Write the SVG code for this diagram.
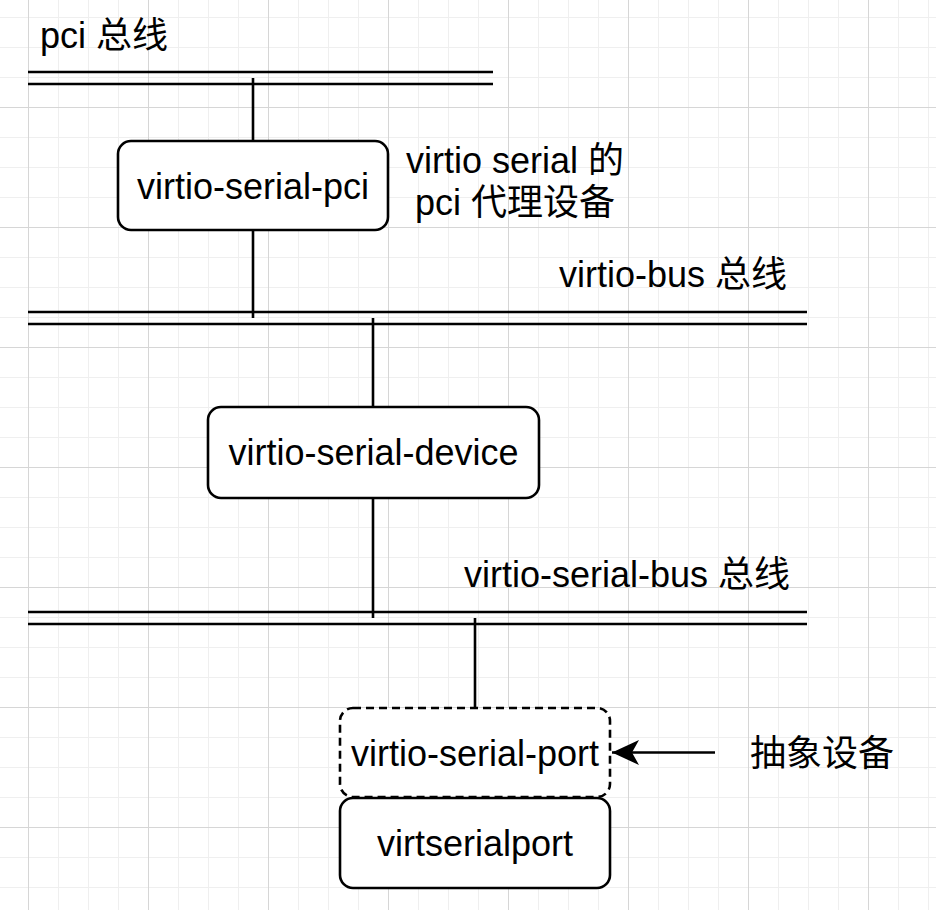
<svg xmlns="http://www.w3.org/2000/svg" width="936" height="910" viewBox="0 0 936 910">
<defs>
<pattern id="gMinor" width="30" height="30" patternUnits="userSpaceOnUse" x="28" y="17">
<path d="M0,0 H30 M0,0 V30" fill="none" stroke="#efefef" stroke-width="2"/>
</pattern>
<pattern id="gMajor" width="120" height="120" patternUnits="userSpaceOnUse" x="28" y="107">
<path d="M0,0 H120 M0,0 V120" fill="none" stroke="#d6d6d6" stroke-width="2"/>
</pattern>
<marker id="arrow" markerUnits="userSpaceOnUse" markerWidth="28" markerHeight="28" refX="27" refY="13" orient="auto">
<path d="M0,0.5 L27,13 L0,25.5 L7,13 Z" fill="#000"/>
</marker>
<style>
.node{fill:#fff;stroke:#000;stroke-width:2.6}
.dash{stroke-dasharray:8 5}
.bus{stroke:#000;stroke-width:2.6;fill:none}
.wire{stroke:#000;stroke-width:2.6;fill:none}
.t{font-family:"Liberation Sans","Noto Sans CJK SC",sans-serif;font-size:36px;fill:#000}
.c{text-anchor:middle}
</style>
</defs>
<rect width="936" height="910" fill="#fff"/>
<rect width="936" height="910" fill="url(#gMinor)"/>
<rect width="936" height="910" fill="url(#gMajor)"/>

<g id="connectors">
<path class="bus" d="M28,72 H493 M28,84 H493"/>
<path class="bus" d="M28,312 H807 M28,324 H807"/>
<path class="bus" d="M28,612 H807 M28,624 H807"/>
<path class="wire" d="M253,78 V141"/>
<path class="wire" d="M253,230 V318"/>
<path class="wire" d="M373,318 V407"/>
<path class="wire" d="M373,498 V618"/>
<path class="wire" d="M475,618 V708"/>
<path class="wire" d="M715,752.5 H612" marker-end="url(#arrow)"/>
</g>

<g id="label-pci-bus"><text class="t" x="40" y="48">pci 总线</text></g>
<g id="label-virtio-bus"><text class="t c" x="673" y="287">virtio-bus 总线</text></g>
<g id="label-virtio-serial-bus"><text class="t c" x="627" y="587">virtio-serial-bus 总线</text></g>
<g id="label-proxy"><text class="t c" x="515" y="173">virtio serial 的</text><text class="t c" x="515" y="215">pci 代理设备</text></g>
<g id="label-abstract"><text class="t" x="750" y="766">抽象设备</text></g>

<g id="node-virtio-serial-pci">
<rect class="node" x="118" y="141" width="270" height="89" rx="13"/>
<text class="t c" x="253" y="199">virtio-serial-pci</text>
</g>
<g id="node-virtio-serial-device">
<rect class="node" x="208" y="407" width="331" height="91" rx="13"/>
<text class="t c" x="373.5" y="465">virtio-serial-device</text>
</g>
<g id="node-virtio-serial-port">
<rect class="node dash" x="340" y="708" width="270" height="89" rx="13"/>
<text class="t c" x="475" y="766">virtio-serial-port</text>
</g>
<g id="node-virtserialport">
<rect class="node" x="340" y="798" width="270" height="90" rx="13"/>
<text class="t c" x="475" y="856">virtserialport</text>
</g>
</svg>
